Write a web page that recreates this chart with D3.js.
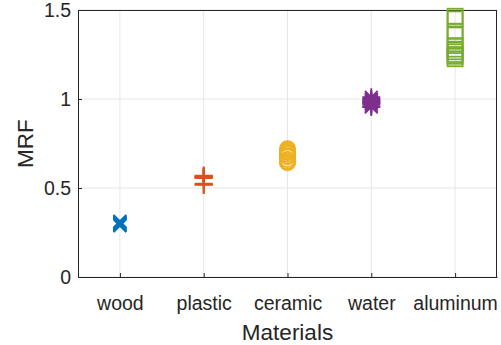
<!DOCTYPE html>
<html>
<head>
<meta charset="utf-8">
<script src="https://cdn.jsdelivr.net/npm/d3@7"></script>
<style>
  html, body { margin: 0; padding: 0; background: #fff; }
  svg { display: block; }
  text { font-family: "Liberation Sans", Arial, Helvetica, sans-serif; fill: #262626; }
</style>
</head>
<body>
<svg id="chart" width="501" height="345"></svg>
<script>
// Material categories and measured MRF values for each sample
const materials = ["wood", "plastic", "ceramic", "water", "aluminum"];
const wood     = [0.290, 0.300, 0.310, 0.295, 0.305, 0.288, 0.313, 0.300, 0.297, 0.308];
const plastic  = [0.570, 0.565, 0.560, 0.555, 0.568, 0.562, 0.520, 0.525, 0.517, 0.558];
const ceramic  = [0.720, 0.710, 0.700, 0.690, 0.680, 0.660, 0.650, 0.642, 0.703, 0.675];
const water    = [1.010, 1.000, 0.990, 0.980, 0.970, 0.960, 0.955, 0.985, 0.995, 0.975];
const aluminum = [1.465, 1.450, 1.380, 1.360, 1.300, 1.280, 1.265, 1.250, 1.240, 1.226];
const yTicks = [0, 0.5, 1, 1.5];
const yTickLabels = ["0", "0.5", "1", "1.5"];

const seriesValues = [wood, plastic, ceramic, water, aluminum];
const markerKinds = ["x", "plus", "circle", "asterisk", "square"];
const colors = ["#0072BD", "#D95319", "#EDB120", "#7E2F8E", "#77AC30"];

const svg = d3.select("#chart");
const plotL = 78, plotR = 497, plotT = 10, plotB = 277;

const x = d3.scaleLinear().domain([0.5, materials.length + 0.5]).range([plotL, plotR]);
const y = d3.scaleLinear().domain([0, 1.5]).range([plotB, plotT]);
const axisColor = "#262626";
const gridColor = "#e6e6e6";
const tickFont = 19.5;
const labelFont = 22.5;

// grid
const grid = svg.append("g");
grid.selectAll("line.gx").data(d3.range(1, materials.length + 1)).join("line")
  .attr("x1", d => x(d)).attr("x2", d => x(d))
  .attr("y1", plotT).attr("y2", plotB)
  .attr("stroke", gridColor).attr("stroke-width", 1);
grid.selectAll("line.gy").data(yTicks).join("line")
  .attr("x1", plotL).attr("x2", plotR)
  .attr("y1", d => y(d)).attr("y2", d => y(d))
  .attr("stroke", gridColor).attr("stroke-width", 1);

// axes (ticks inward, box on)
const yAxis = d3.axisLeft(y).tickValues(yTicks)
  .tickFormat((d, i) => yTickLabels[i]).tickSizeInner(-4).tickSizeOuter(0).tickPadding(7);
const xAxis = d3.axisBottom(x).tickValues(d3.range(1, materials.length + 1))
  .tickFormat(d => materials[d - 1]).tickSizeInner(-4).tickSizeOuter(0).tickPadding(19);

const gy = svg.append("g").attr("transform", `translate(${plotL},0)`).call(yAxis);
const gx = svg.append("g").attr("transform", `translate(0,${plotB})`).call(xAxis);
[gx, gy].forEach(g => {
  g.select(".domain").attr("stroke", axisColor).attr("stroke-width", 1);
  g.selectAll(".tick line").attr("stroke", axisColor);
  g.selectAll(".tick text").attr("font-size", tickFont).attr("fill", axisColor)
    .style("font-family", '"Liberation Sans", Arial, sans-serif');
});
svg.append("line").attr("x1", plotL).attr("x2", plotR).attr("y1", plotT + 0.5).attr("y2", plotT + 0.5)
  .attr("stroke", axisColor);
svg.append("line").attr("x1", plotR - 0.5).attr("x2", plotR - 0.5).attr("y1", plotT).attr("y2", plotB)
  .attr("stroke", axisColor);

// axis titles
svg.append("text").attr("x", (plotL + plotR) / 2).attr("y", 340)
  .attr("text-anchor", "middle").attr("font-size", labelFont).text("Materials");
svg.append("text").attr("transform", `translate(33,${(plotT + plotB) / 2}) rotate(-90)`)
  .attr("text-anchor", "middle").attr("font-size", labelFont).text("MRF");

// marker path generators (centered at 0,0)
function markerPath(kind, r) {
  const p = d3.path();
  if (kind === "x") {
    const a = r * 0.75;
    p.moveTo(-a, -a); p.lineTo(a, a); p.moveTo(-a, a); p.lineTo(a, -a);
  } else if (kind === "plus") {
    p.moveTo(-r, 0); p.lineTo(r, 0); p.moveTo(0, -r); p.lineTo(0, r);
  } else if (kind === "asterisk") {
    const a = r * Math.SQRT1_2;
    p.moveTo(-r, 0); p.lineTo(r, 0); p.moveTo(0, -r); p.lineTo(0, r);
    p.moveTo(-a, -a); p.lineTo(a, a); p.moveTo(-a, a); p.lineTo(a, -a);
  }
  return p.toString();
}

const markers = svg.append("g").attr("fill", "none").attr("stroke-width", 1.8);
seriesValues.forEach((vals, i) => {
  const kind = markerKinds[i];
  const g = markers.append("g").attr("stroke", colors[i]);
  const cx = x(i + 1);
  if (kind === "circle") {
    g.selectAll("circle").data(vals).join("circle")
      .attr("cx", cx).attr("cy", d => y(d)).attr("r", 7.6);
  } else if (kind === "square") {
    const s = 15;
    g.selectAll("rect").data(vals).join("rect")
      .attr("x", cx - s / 2).attr("y", d => y(d) - s / 2)
      .attr("width", s).attr("height", s);
  } else {
    const r = kind === "x" ? 8.5 : 9;
    g.selectAll("path").data(vals).join("path")
      .attr("transform", d => `translate(${cx},${y(d)})`)
      .attr("d", markerPath(kind, r));
  }
});
</script>
</body>
</html>
